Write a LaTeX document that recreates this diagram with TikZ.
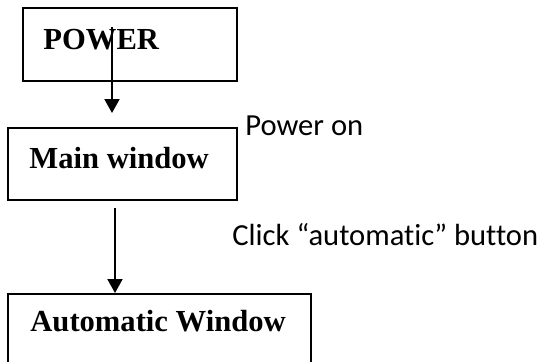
\documentclass[tikz,border=0pt]{standalone}
\usepackage{fontspec}
\setmainfont{Liberation Serif}
\newfontfamily\notefont[Ligatures=NoCommon]{Carlito}
\usetikzlibrary{arrows.meta}
\begin{document}
\begin{tikzpicture}[x=0.5pt,y=-0.5pt,
  box/.style={draw,line width=1pt},
  title/.style={anchor=base west,inner sep=0pt,font=\fontsize{15.3}{18}\selectfont\bfseries},
  note/.style={anchor=base west,inner sep=0pt,font=\fontsize{15.3}{18}\selectfont\notefont},
  flow/.style={line width=1pt,-{Triangle[length=7pt,width=7.5pt]}}]
  \useasboundingbox (0,0) rectangle (541,361);
  % boxes
  \draw[box] (23,8) rectangle (237,81);
  \draw[box] (8,128) rectangle (237,200);
  \draw[box] (8,368) -- (8,294) -- (311,294) -- (311,368);
  % box titles
  \node[title] (power) at (43,49) {POWER};
  \node[title] (main) at (29,168) {Main window};
  \node[title] (auto) at (30,331) {Automatic Window};
  % transition labels
  \node[note] (pon) at (245,135) {Power on};
  \node[note] (click) at (232,245) {Click “automatic” button};
  % connectors
  \coordinate (a1s) at (112,27);
  \coordinate (a1e) at (112,113);
  \coordinate (a2s) at (115,208);
  \coordinate (a2e) at (115,293);
  \draw[flow] (a1s) -- (a1e);
  \draw[flow] (a2s) -- (a2e);
\end{tikzpicture}
\end{document}
